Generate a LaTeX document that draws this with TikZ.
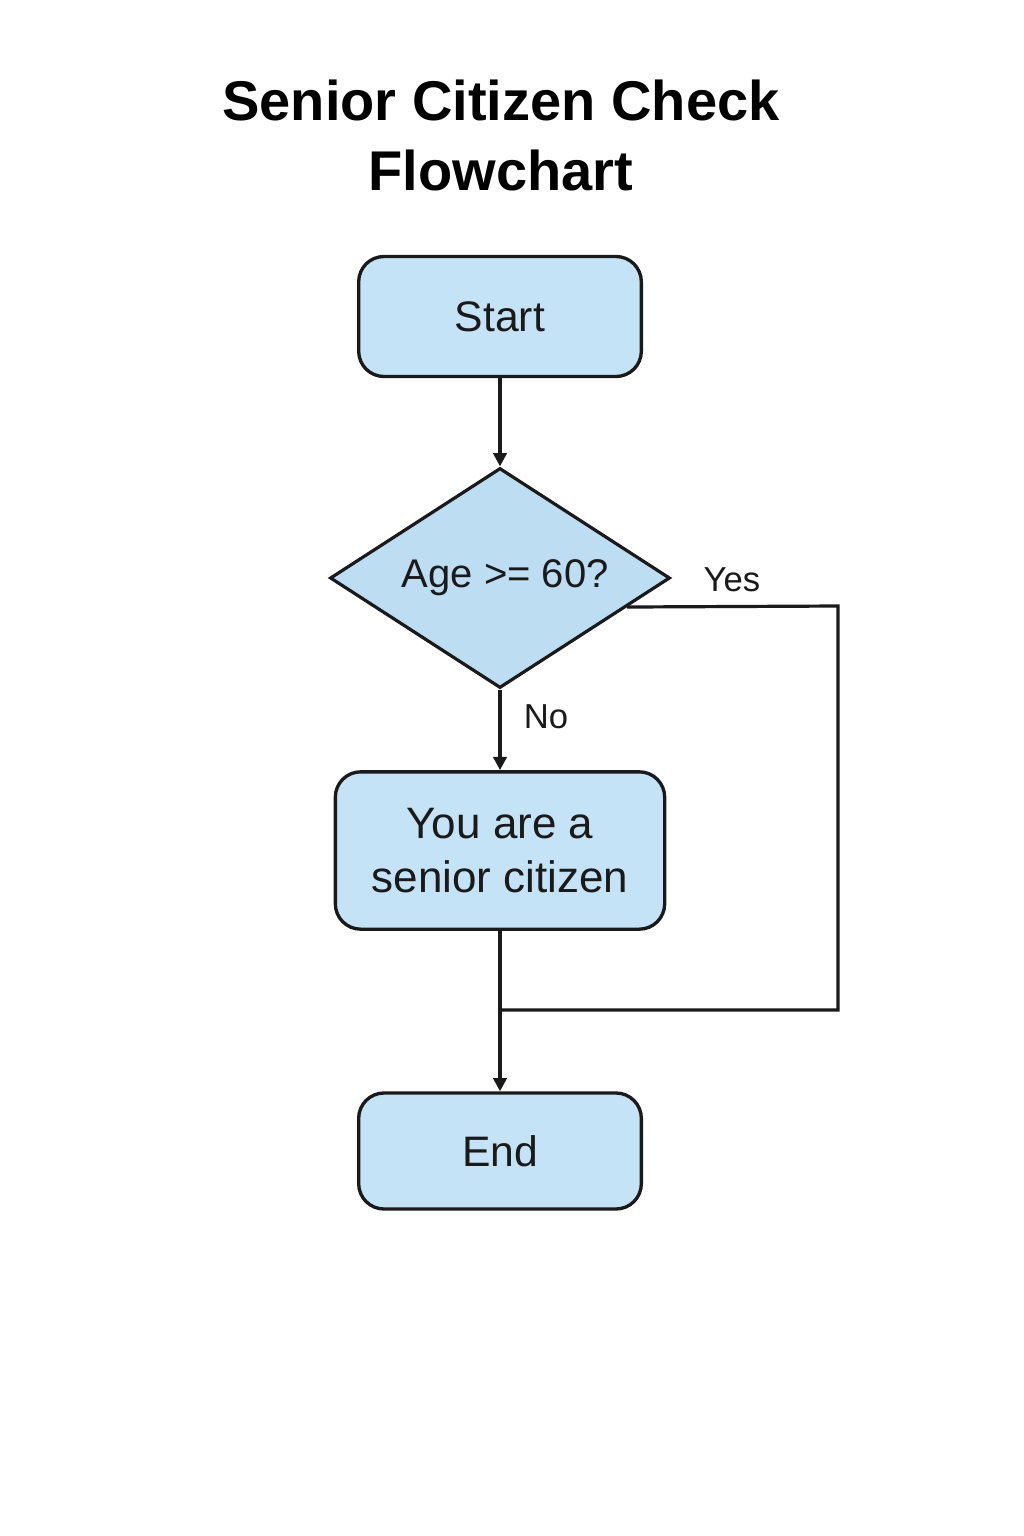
\documentclass[tikz,border=0pt]{standalone}
\usepackage{fontspec}
\setmainfont{Liberation Sans}
\usetikzlibrary{arrows.meta,shapes.geometric,calc}
\definecolor{boxfill}{HTML}{C5E3F6}
\definecolor{dfill}{HTML}{BCDDF2}
\definecolor{ink}{HTML}{1A1A1A}
\tikzset{
  px/.style={x=0.75pt,y=-0.75pt},
  termbox/.style={draw=ink,line width=2.5pt,fill=boxfill,rounded corners=19pt,
    minimum width=212pt,minimum height=90pt,inner sep=0pt,align=center,
    font=\fontsize{32}{41}\selectfont,text=ink},
  decbox/.style={draw=ink,line width=2.4pt,fill=dfill,diamond,shape aspect=1.545,
    minimum width=255pt,minimum height=165pt,inner sep=0pt,
    font=\fontsize{30}{36}\selectfont,text=ink},
  conn/.style={draw=ink,line width=2.4pt},
  arr/.style={conn,-{Triangle[length=10pt,width=10pt]}},
  lbl/.style={font=\fontsize{26}{30}\selectfont,text=ink,inner sep=0pt}
}
\begin{document}
\begin{tikzpicture}[px]
\useasboundingbox (0,0) rectangle (1024,1536);
\fill[white] (0,0) rectangle (1024,1536);
\node[align=center,font=\bfseries\fontsize{42}{52.5}\selectfont,text=black] (title) at (501,135) {Senior Citizen Check\\Flowchart};
\node[termbox] (start) at (500,316.5) {Start};
\node[decbox] (dec) at (500,578) {\hspace*{8pt}Age >= 60?};
\node[termbox,minimum width=247pt,minimum height=118pt,font=\fontsize{33}{41}\selectfont] (you) at (500,850.5) {You are a\\senior citizen};
\node[termbox,minimum height=87pt] (end) at (500,1151) {End};
\draw[arr] (start.south) -- (dec.north);
\draw[arr] (dec.south) -- (you.north);
\coordinate (yo) at ($(dec.east)!0.26!(dec.south)$);
\coordinate (rc) at (838,606);
\coordinate (j) at (500,1010);
\draw[conn] (yo) -- (rc) |- (j);
\draw[arr] (you.south) -- (end.north);
\node[lbl] (yes) at (732,580) {Yes};
\node[lbl] (no) at (546,717) {No};
\end{tikzpicture}
\end{document}
